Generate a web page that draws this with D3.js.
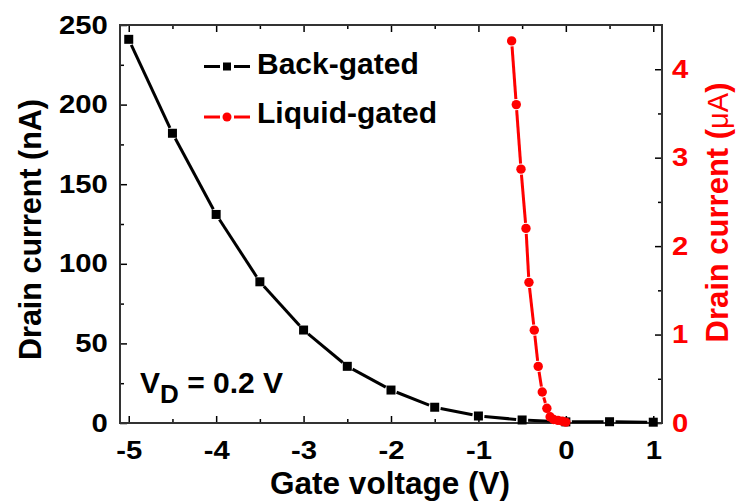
<!DOCTYPE html>
<html>
<head>
<meta charset="utf-8">
<script src="https://cdn.jsdelivr.net/npm/d3@7"></script>
<style>
  html, body { margin: 0; padding: 0; background: #fff; }
  svg { display: block; }
  text { font-family: "Liberation Sans", Arial, sans-serif; font-weight: bold; }
</style>
</head>
<body>
<svg id="chart" width="736" height="502"></svg>
<script>
// Back-gated transfer curve (drain current in nA)
const backGateV = [-5, -4.5, -4, -3.5, -3, -2.5, -2, -1.5, -1, -0.5, 0, 0.5, 1];
const backCurrent = [241, 182, 131, 88.7, 58.4, 35.6, 20.7, 9.9, 4.4, 1.9, 0.7, 0.8, 0.5];

// Liquid-gated transfer curve (drain current in µA)
const liquidGateV = [-0.62, -0.567, -0.513, -0.456, -0.422, -0.361, -0.316, -0.27, -0.217, -0.18, -0.14, -0.09, -0.04, 0.0];
const liquidCurrent = [4.32, 3.60, 2.87, 2.20, 1.59, 1.05, 0.64, 0.35, 0.166, 0.07, 0.04, 0.03, 0.02, 0.01];

const xTicks = [-5, -4, -3, -2, -1, 0, 1];
const leftTicks = [0, 50, 100, 150, 200, 250];
const rightTicks = [0, 1, 2, 3, 4];

const svg = d3.select("#chart");
const L = 120, R = 662, T = 25, B = 423;
const red = "#ff0000";
const tickFont = 25, tickStretch = 1.17;

const x = d3.scaleLinear().domain([-5.1, 1.1]).range([L, R]);
const yL = d3.scaleLinear().domain([0, 250]).range([B, T]);
const yR = d3.scaleLinear().domain([0, 4.5]).range([B, T]);

// minor tick values
const xMinor = d3.range(-5, 1.01, 0.5).filter(v => !xTicks.includes(v));
const lMinor = d3.range(25, 250, 50);
const rMinor = d3.range(0.5, 4.5, 1);

function tickStyle(g) {
  g.select(".domain").remove();
  g.selectAll(".tick line").attr("stroke", "#000").attr("stroke-width", 1.5);
}
function labelStyle(g, color) {
  g.selectAll(".tick text")
    .attr("font-size", tickFont)
    .attr("fill", color)
    .attr("transform", `scale(${tickStretch},1)`);
}

// bottom axis (ticks pointing inward)
svg.append("g").attr("transform", `translate(0,${B})`)
  .call(d3.axisBottom(x).tickValues(xTicks).tickSizeInner(-7).tickSizeOuter(0).tickPadding(18)
    .tickFormat(d => d))
  .call(tickStyle).call(labelStyle, "#000");
svg.append("g").attr("transform", `translate(0,${B})`)
  .call(d3.axisBottom(x).tickValues(xMinor).tickSizeInner(-4).tickSizeOuter(0).tickFormat(""))
  .call(tickStyle);

// top axis ticks
svg.append("g").attr("transform", `translate(0,${T})`)
  .call(d3.axisTop(x).tickValues(xTicks).tickSizeInner(-7).tickSizeOuter(0).tickFormat(""))
  .call(tickStyle);
svg.append("g").attr("transform", `translate(0,${T})`)
  .call(d3.axisTop(x).tickValues(xMinor).tickSizeInner(-4).tickSizeOuter(0).tickFormat(""))
  .call(tickStyle);

// left axis
svg.append("g").attr("transform", `translate(${L},0)`)
  .call(d3.axisLeft(yL).tickValues(leftTicks).tickSizeInner(-7).tickSizeOuter(0).tickPadding(10.5)
    .tickFormat(d => d))
  .call(tickStyle).call(labelStyle, "#000");
svg.append("g").attr("transform", `translate(${L},0)`)
  .call(d3.axisLeft(yL).tickValues(lMinor).tickSizeInner(-4).tickSizeOuter(0).tickFormat(""))
  .call(tickStyle);

// right axis
svg.append("g").attr("transform", `translate(${R},0)`)
  .call(d3.axisRight(yR).tickValues(rightTicks).tickSizeInner(-7).tickSizeOuter(0).tickPadding(8.5)
    .tickFormat(d => d))
  .call(tickStyle).call(labelStyle, red);
svg.append("g").attr("transform", `translate(${R},0)`)
  .call(d3.axisRight(yR).tickValues(rMinor).tickSizeInner(-4).tickSizeOuter(0).tickFormat(""))
  .call(tickStyle);

// frame
svg.append("rect").attr("x", L).attr("y", T).attr("width", R - L).attr("height", B - T)
  .attr("fill", "none").attr("stroke", "#333").attr("stroke-width", 2);

// Connect points with segments that leave a small gap around each marker
function gappedSegments(pts, gap) {
  const segs = [];
  for (let i = 0; i < pts.length - 1; i++) {
    const [x1, y1] = pts[i], [x2, y2] = pts[i + 1];
    const dx = x2 - x1, dy = y2 - y1, len = Math.hypot(dx, dy);
    if (len <= 2 * gap) continue;
    const ux = dx / len, uy = dy / len;
    segs.push([x1 + ux * gap, y1 + uy * gap, x2 - ux * gap, y2 - uy * gap]);
  }
  return segs;
}

const plot = svg.append("g");

// back-gated series
const bPts = backGateV.map((v, i) => [x(v), yL(backCurrent[i])]);
plot.selectAll(".bseg").data(gappedSegments(bPts, 6)).join("line")
  .attr("x1", d => d[0]).attr("y1", d => d[1]).attr("x2", d => d[2]).attr("y2", d => d[3])
  .attr("stroke", "#000").attr("stroke-width", 3);
plot.selectAll(".bpt").data(bPts).join("rect")
  .attr("x", d => d[0] - 4.5).attr("y", d => d[1] - 4.5)
  .attr("width", 9).attr("height", 9).attr("fill", "#000");

// liquid-gated series
const lPts = liquidGateV.map((v, i) => [x(v), yR(liquidCurrent[i])]);
plot.selectAll(".lseg").data(gappedSegments(lPts, 5.5)).join("line")
  .attr("x1", d => d[0]).attr("y1", d => d[1]).attr("x2", d => d[2]).attr("y2", d => d[3])
  .attr("stroke", red).attr("stroke-width", 3);
plot.selectAll(".lpt").data(lPts).join("circle")
  .attr("cx", d => d[0]).attr("cy", d => d[1]).attr("r", 4.7).attr("fill", red);

// legend
const legend = [
  { label: "Back-gated", color: "#000", shape: "square", y: 66.5, base: 73.5 },
  { label: "Liquid-gated", color: red, shape: "circle", y: 117, base: 122.5 }
];
legend.forEach(d => {
  const g = svg.append("g");
  g.append("line").attr("x1", 204).attr("x2", 220).attr("y1", d.y).attr("y2", d.y)
    .attr("stroke", d.color).attr("stroke-width", 3);
  g.append("line").attr("x1", 234).attr("x2", 250).attr("y1", d.y).attr("y2", d.y)
    .attr("stroke", d.color).attr("stroke-width", 3);
  if (d.shape === "square") {
    g.append("rect").attr("x", 223).attr("y", d.y - 4).attr("width", 8).attr("height", 8).attr("fill", d.color);
  } else {
    g.append("circle").attr("cx", 227).attr("cy", d.y).attr("r", 4.5).attr("fill", d.color);
  }
  g.append("text").attr("x", 257).attr("y", d.base).attr("font-size", 30).attr("fill", "#000").text(d.label);
});

// V_D annotation
const vd = svg.append("text").attr("x", 140).attr("y", 393).attr("font-size", 30).attr("fill", "#000");
vd.append("tspan").text("V");
vd.append("tspan").attr("dy", 9.5).attr("font-size", 26).text("D");
vd.append("tspan").attr("dy", -9.5).text(" = 0.2 V");

// axis titles
svg.append("text").attr("x", 390).attr("y", 494).attr("text-anchor", "middle")
  .attr("font-size", 31.5).attr("fill", "#000").text("Gate voltage (V)");
svg.append("text").attr("transform", "translate(40.5,229.5) rotate(-90)").attr("text-anchor", "middle")
  .attr("font-size", 30.5).attr("fill", "#000").text("Drain current (nA)");
const rt = svg.append("text").attr("transform", "translate(728,212.5) rotate(-90)").attr("text-anchor", "middle")
  .attr("font-size", 31).attr("fill", red);
rt.append("tspan").text("Drain current (");
rt.append("tspan").attr("font-weight", "normal").attr("font-size", 29).text("μA");
rt.append("tspan").text(")");
</script>
</body>
</html>
